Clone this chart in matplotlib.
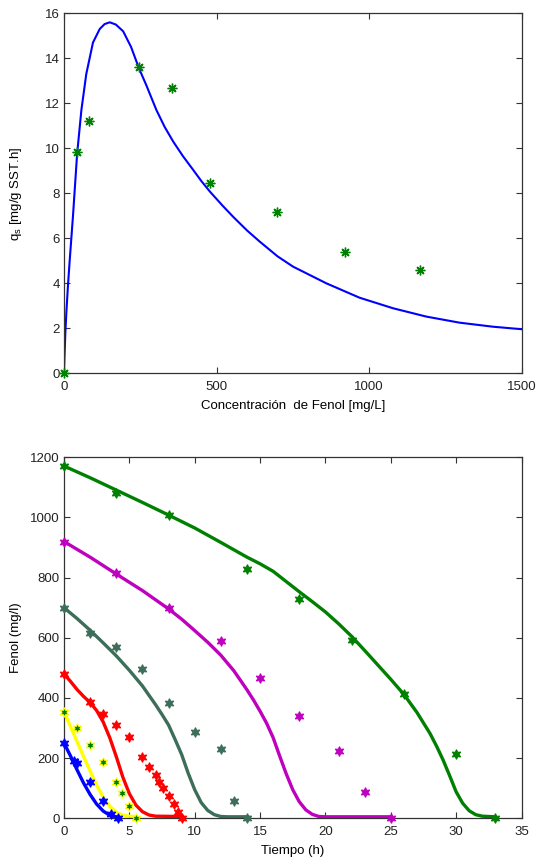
import numpy as np
import matplotlib
matplotlib.use('Agg')
import matplotlib.pyplot as plt

plt.rcParams['font.family'] = ['Liberation Sans', 'DejaVu Sans']
plt.rcParams['font.size'] = 9.5

# --- top panel: specific rate vs phenol concentration ---
exp_S = [0, 43, 82, 246, 354, 480, 698, 920, 1167]
exp_q = [0, 9.85, 11.23, 13.6, 12.7, 8.46, 7.15, 5.38, 4.58]

fit_S = [0, 1, 4.4, 7.7, 13, 18.6, 29.5, 43, 57, 73, 95, 117, 133, 150, 170, 194, 220,
         246, 270, 303, 330, 358, 390, 423, 450, 480, 520, 555, 600, 642, 700, 751,
         860, 969, 1079, 1188, 1297, 1407, 1500]
fit_q = [0, 0.5, 1.8, 2.7, 3.9, 5.0, 7.0, 9.75, 11.7, 13.3, 14.7, 15.3, 15.52, 15.6, 15.5,
         15.2, 14.5, 13.55, 12.8, 11.7, 10.95, 10.3, 9.65, 9.05, 8.55, 8.05, 7.45, 6.95,
         6.35, 5.85, 5.2, 4.74, 4.0, 3.36, 2.89, 2.52, 2.25, 2.07, 1.96]

# --- bottom panel: phenol vs time, one series per initial concentration ---
blue_t = [0, 0.8, 1, 2, 3, 3.6, 4.1]
blue_v = [250, 192, 185, 122, 57, 14, 0]
blue_ft = [0, 0.5, 1, 1.5, 2, 2.5, 3, 3.5, 4, 4.2]
blue_fv = [250, 207, 161, 117, 79, 47, 24, 10, 5, 4]

yel_t = [0, 1, 2, 3, 4, 4.45, 5, 5.5]
yel_v = [355, 299, 244, 188, 120, 85, 41, 0]
yel_ft = [0, 0.5, 1, 1.5, 2, 2.5, 3, 3.5, 4, 4.5, 5, 5.5]
yel_fv = [354, 305, 255, 205, 157, 110, 70, 40, 20, 10, 7, 6]

red_t = [0, 2, 3, 4, 5, 6, 6.5, 7, 7.3, 7.6, 8, 8.4, 8.75, 9]
red_v = [480, 386, 346, 309, 271, 204, 172, 145, 121, 100, 74, 48, 22, 0]
red_ft = [0, 0.5, 1, 1.5, 2, 2.5, 3, 3.5, 4, 4.5, 5, 5.5, 6, 6.5, 7, 9.1]
red_fv = [480, 455, 428, 405, 385, 358, 320, 268, 205, 137, 82, 44, 22, 11, 7, 6]

dg_t = [0, 2, 4, 6, 8, 10, 12, 13, 14]
dg_v = [700, 617, 571, 497, 384, 288, 229, 59, 0]
dg_ft = [0, 1, 2, 3, 4, 5, 6, 7, 7.5, 8, 8.5, 9, 9.5, 10, 10.5, 11, 11.5, 12, 12.5, 14.1]
dg_fv = [700, 664, 625, 583, 540, 492, 440, 378, 345, 310, 262, 212, 150, 95, 52, 26,
         12, 6, 5, 5]

mag_t = [0, 4, 8, 12, 15, 18, 21, 23, 25]
mag_v = [920, 814, 699, 588, 465, 341, 223, 86, 0]
mag_ft = [0, 2, 4, 6, 8, 9, 10, 11, 12, 13, 14, 14.5, 15, 15.5, 16, 16.5, 17, 17.5, 18,
          18.5, 19, 19.5, 20, 25]
mag_fv = [920, 868, 812, 757, 696, 662, 624, 585, 542, 490, 427, 393, 356, 316, 268, 207,
          148, 95, 55, 28, 13, 6, 5, 5]

grn_t = [0, 4, 8, 14, 18, 22, 26, 30, 33]
grn_v = [1171, 1080, 1008, 829, 728, 593, 412, 213, 2]
grn_ft = [0, 2, 4, 6, 8, 10, 12, 14, 15, 16, 17, 18, 19, 20, 21, 22, 23, 24, 25, 26, 27,
          28, 28.5, 29, 29.5, 30, 30.5, 31, 31.5, 32, 33]
grn_fv = [1171, 1132, 1091, 1050, 1008, 965, 917, 868, 846, 821, 787, 753, 720, 686, 647,
          605, 558, 510, 462, 412, 352, 282, 240, 194, 142, 88, 50, 25, 12, 7, 5]

W, H = 536, 861
fig = plt.figure(figsize=(W / 100, H / 100), dpi=100)
axc = '#333333'


def style(ax):
    for s in ax.spines.values():
        s.set_color(axc)
        s.set_linewidth(0.9)
    ax.tick_params(direction='in', length=4, width=0.8, color=axc,
                   top=True, right=True, labelcolor='#222222')
    ax.tick_params(axis='x', pad=5.5)
    ax.tick_params(axis='y', pad=3)


ax1 = fig.add_axes([64 / W, 1 - 373.3 / H, 457.5 / W, 360 / H])
ax1.plot(fit_S, fit_q, color='#0000ff', lw=1.5, zorder=2)
ax1.plot(exp_S, exp_q, ls='none', marker=(8, 2, 0), ms=7, mew=1.0,
         color='#008000', zorder=3, clip_on=False)
ax1.set_xlim(0, 1500)
ax1.set_ylim(0, 16)
ax1.set_xticks([0, 500, 1000, 1500])
ax1.set_yticks(np.arange(0, 17, 2))
ax1.set_xlabel('Concentración  de Fenol [mg/L]', labelpad=5)
ax1.set_ylabel('q$\\mathregular{_s}$ [mg/g SST.h]', labelpad=15)
style(ax1)

ax2 = fig.add_axes([64 / W, 1 - 818.3 / H, 457.5 / W, 361 / H])
series = [
    (blue_ft, blue_fv, blue_t, blue_v, '#0000ff', '#0000ff'),
    (yel_ft, yel_fv, yel_t, yel_v, '#ffff00', '#008000'),
    (red_ft, red_fv, red_t, red_v, '#ff0000', '#ff0000'),
    (dg_ft, dg_fv, dg_t, dg_v, '#3c6e5a', '#3c6e5a'),
    (mag_ft, mag_fv, mag_t, mag_v, '#bf00bf', '#bf00bf'),
    (grn_ft, grn_fv, grn_t, grn_v, '#008000', '#008000'),
]
for ft, fv, t, v, c, fc in series:
    ax2.plot(ft, fv, color=c, lw=2.4, zorder=2, solid_capstyle='round',
             solid_joinstyle='round')
    ax2.plot(t, v, ls='none', marker=(6, 1, 0), ms=7, mfc=fc, mec=c, mew=0.8,
             zorder=3, clip_on=False)
ax2.set_xlim(0, 35)
ax2.set_ylim(0, 1200)
ax2.set_xticks(np.arange(0, 36, 5))
ax2.set_yticks(np.arange(0, 1201, 200))
ax2.set_xlabel('Tiempo (h)', labelpad=5)
ax2.set_ylabel('Fenol (mg/l)', labelpad=6)
style(ax2)

fig.savefig('out.png', dpi=100)
